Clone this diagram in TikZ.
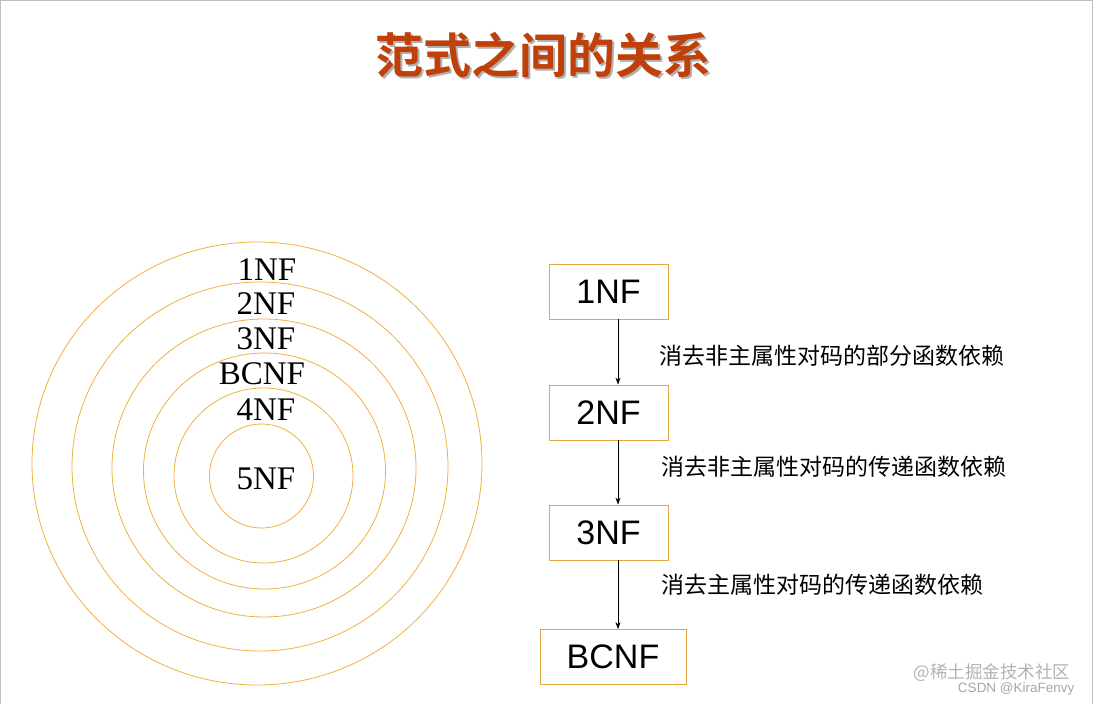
\documentclass[tikz,border=0pt]{standalone}
\usepackage{fontspec}
\usetikzlibrary{arrows.meta}
\setmainfont{Liberation Serif}
\newfontfamily\cjk{Noto Sans CJK SC}
\newfontfamily\cjkb{Noto Sans CJK SC Bold}
\newfontfamily\sans{Liberation Sans}
\definecolor{ring}{HTML}{F0B040}
\definecolor{boxc}{HTML}{E8A640}
\definecolor{titlec}{HTML}{C0400A}
\begin{document}
\begin{tikzpicture}[x=1pt,y=-1pt,
  ringc/.style={draw=ring,line width=0.8pt},
  lab/.style={font=\fontsize{33}{33}\selectfont},
  nfbox/.style={draw=boxc,line width=0.8pt,font=\sans\fontsize{34}{34}\selectfont,minimum height=55pt,inner sep=0pt},
  note/.style={font=\cjk\fontsize{23}{23}\selectfont,anchor=west},
  arr/.style={-{Stealth[length=7pt,width=5pt]},line width=0.6pt}]
\useasboundingbox (0,0) rectangle (1093,704);
\draw[gray!50,line width=1pt] (0.5,704) -- (0.5,0.5) -- (1092.5,0.5) -- (1092.5,704);
% title
\node[font=\cjkb\fontsize{48}{48}\selectfont,text=gray!60] at (545,57) {范式之间的关系};
\node[font=\cjkb\fontsize{48}{48}\selectfont,text=titlec] (title) at (543,55) {范式之间的关系};
% rings
\draw[ringc] (257,463.5) ellipse [x radius=225,y radius=221.5];
\draw[ringc] (260,466.5) ellipse [x radius=188,y radius=184.5];
\draw[ringc] (264,468) ellipse [x radius=152,y radius=149];
\draw[ringc] (264.5,471) ellipse [x radius=121,y radius=118];
\draw[ringc] (263.5,475.5) ellipse [x radius=89.5,y radius=87.5];
\draw[ringc] (261.5,476) ellipse [x radius=52,y radius=52];
\node[lab] (l1) at (267,270) {1NF};
\node[lab] (l2) at (266,304) {2NF};
\node[lab] (l3) at (266,339) {3NF};
\node[lab] (l4) at (262,374) {BCNF};
\node[lab] (l5) at (266,410) {4NF};
\node[lab] (l6) at (266,479) {5NF};
% boxes
\node[nfbox,minimum width=119pt] (b1) at (608.5,291.5) {1NF};
\node[nfbox,minimum width=119pt] (b2) at (608.5,412.5) {2NF};
\node[nfbox,minimum width=119pt] (b3) at (608.5,532.5) {3NF};
\node[nfbox,minimum width=146pt] (b4) at (613,657) {BCNF};
\draw[arr] (b1.south -| 618,0) -- (b2.north -| 618,0);
\draw[arr] (b2.south -| 618,0) -- (b3.north -| 618,0);
\draw[arr] (b3.south -| 618,0) -- (b4.north -| 618,0);
\node[note] (n1) at (656,356) {消去非主属性对码的部分函数依赖};
\node[note] (n2) at (658,467) {消去非主属性对码的传递函数依赖};
\node[note] (n3) at (658,585) {消去主属性对码的传递函数依赖};
% watermark
\node[font=\cjk\fontsize{17.5}{17.5}\selectfont,text=gray!60,anchor=east] (w1) at (1074,673) {@稀土掘金技术社区};
\node[font=\sans\fontsize{13.5}{13.5}\selectfont,text=gray!70,anchor=east] (w2) at (1078,689) {CSDN @KiraFenvy};
\end{tikzpicture}
\end{document}
